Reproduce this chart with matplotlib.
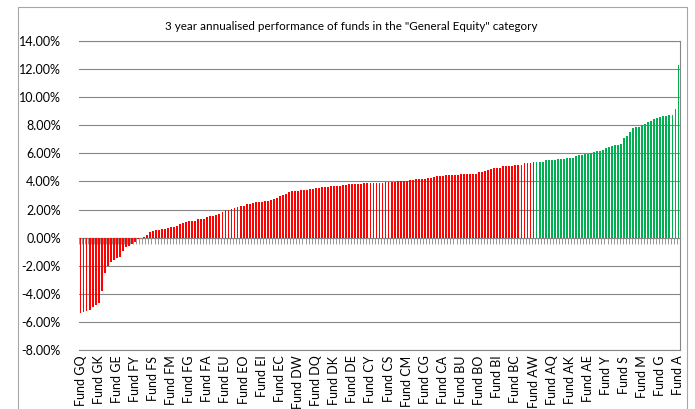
#!/usr/bin/env python3
"""
3 year annualised performance of General Equity funds.
Sorted bar chart: funds below the selected fund in red, the selected fund
in purple, funds above it in green.
"""

import numpy as np
import matplotlib
matplotlib.use("Agg")
import matplotlib.pyplot as plt
from matplotlib.patches import Rectangle
from matplotlib.ticker import PercentFormatter

plt.rcParams["font.family"] = ["Lato", "DejaVu Sans"]
plt.rcParams["axes.unicode_minus"] = False

TITLE = '3 year annualised performance of funds in the "General Equity" category'

# returns in %, sorted ascending
BELOW_SELECTED = [
    -5.36, -5.29, -5.21, -5.16, -4.97, -4.78, -4.62, -3.78, -2.53, -2.05,
    -1.71, -1.60, -1.45, -1.36, -0.95, -0.64, -0.62, -0.48, -0.29, -0.10,
    -0.04, 0.03, 0.20, 0.38, 0.50, 0.55, 0.57, 0.60, 0.62, 0.69,
    0.74, 0.76, 0.81, 0.95, 1.07, 1.12, 1.19, 1.21, 1.21, 1.33,
    1.33, 1.33, 1.45, 1.52, 1.52, 1.60, 1.67, 1.79, 1.98, 2.00,
    2.05, 2.12, 2.21, 2.24, 2.24, 2.36, 2.36, 2.45, 2.52, 2.55,
    2.55, 2.60, 2.64, 2.69, 2.74, 2.83, 2.93, 3.02, 3.14, 3.24,
    3.29, 3.31, 3.33, 3.36, 3.40, 3.40, 3.43, 3.48, 3.52, 3.52,
    3.57, 3.62, 3.64, 3.67, 3.67, 3.69, 3.71, 3.74, 3.76, 3.79,
    3.81, 3.81, 3.83, 3.83, 3.86, 3.86, 3.86, 3.88, 3.90, 3.90,
    3.90, 3.95, 3.98, 3.98, 3.98, 4.00, 4.02, 4.02, 4.05, 4.07,
    4.12, 4.17, 4.17, 4.19, 4.19, 4.24, 4.26, 4.33, 4.38, 4.38,
    4.38, 4.43, 4.45, 4.45, 4.48, 4.48, 4.50, 4.50, 4.50, 4.50,
    4.52, 4.52, 4.64, 4.67, 4.74, 4.81, 4.90, 4.93, 4.95, 4.98,
    5.07, 5.12, 5.12, 5.12, 5.14, 5.17, 5.17, 5.29, 5.29, 5.29,
]
SELECTED = [5.36]
ABOVE_SELECTED = [
    5.40, 5.40, 5.40, 5.50, 5.50, 5.50, 5.50, 5.57, 5.57, 5.57,
    5.64, 5.64, 5.64, 5.79, 5.86, 5.86, 5.93, 5.95, 6.02, 6.07,
    6.14, 6.14, 6.26, 6.40, 6.48, 6.52, 6.57, 6.57, 6.64, 7.07,
    7.21, 7.50, 7.79, 7.86, 7.86, 8.05, 8.12, 8.21, 8.29, 8.43,
    8.55, 8.62, 8.67, 8.67, 8.74, 8.74, 9.14, 12.29,
]

# every 6th fund is labelled on the category axis
TICK_LABELS = [
    "Fund GQ", "Fund GK", "Fund GE", "Fund FY", "Fund FS", "Fund FM",
    "Fund FG", "Fund FA", "Fund EU", "Fund EO", "Fund EI", "Fund EC",
    "Fund DW", "Fund DQ", "Fund DK", "Fund DE", "Fund CY", "Fund CS",
    "Fund CM", "Fund CG", "Fund CA", "Fund BU", "Fund BO", "Fund BI",
    "Fund BC", "Fund AW", "Fund AQ", "Fund AK", "Fund AE", "Fund Y",
    "Fund S", "Fund M", "Fund G", "Fund A",
]

RED = "#FF0000"
PURPLE = "#7030A0"
GREEN = "#00B050"
GRID = "#868686"


def main():
    values = np.array(BELOW_SELECTED + SELECTED + ABOVE_SELECTED)
    n = len(values)
    colors = ([RED] * len(BELOW_SELECTED) + [PURPLE] * len(SELECTED)
              + [GREEN] * len(ABOVE_SELECTED))

    fig = plt.figure(figsize=(6.95, 4.09), dpi=100)
    ax = fig.add_axes([79 / 695, 59 / 409, 601 / 695, 309 / 409])

    x = np.arange(n)
    ax.bar(x, values, width=0.62, color=colors, linewidth=0)

    ymin, ymax = -8, 14
    ax.set_xlim(-0.5, n - 0.5)
    ax.set_ylim(ymin, ymax)
    ax.set_yticks(np.arange(ymin, ymax + 1, 2))
    ax.yaxis.set_major_formatter(PercentFormatter(xmax=100, decimals=2))
    ax.tick_params(axis="y", length=0, pad=13, labelsize=9, colors="black")

    step = (n - 1) // (len(TICK_LABELS) - 1)
    ax.set_xticks(x[::step])
    ax.set_xticklabels(TICK_LABELS, rotation=90, fontsize=9)
    ax.tick_params(axis="x", length=0, pad=4)

    ax.grid(axis="y", color=GRID, linewidth=0.8)
    ax.set_axisbelow(True)
    ax.spines["left"].set_visible(False)
    for side in ("right", "top", "bottom"):
        ax.spines[side].set_color(GRID)
        ax.spines[side].set_linewidth(0.8)

    # category axis crossing at zero, with a tick between every fund
    zero_axis = ax.secondary_xaxis((0 - ymin) / (ymax - ymin))
    zero_axis.set_xticks(np.arange(-0.5, n, 1))
    zero_axis.set_xticklabels([])
    zero_axis.tick_params(axis="x", direction="out", length=4, width=0.6,
                          color=GRID)
    zero_axis.spines["bottom"].set_color(GRID)

    fig.text(351 / 695, 1 - 27 / 409, TITLE, ha="center", va="center",
             fontsize=8.4)

    # chart area border
    fig.patches.append(Rectangle((18 / 695, -0.05), 669 / 695, 1.05 - 7 / 409,
                                 transform=fig.transFigure, fill=False,
                                 edgecolor="#A6A6A6", linewidth=0.8))

    fig.savefig("out.png", dpi=100)


if __name__ == "__main__":
    main()
